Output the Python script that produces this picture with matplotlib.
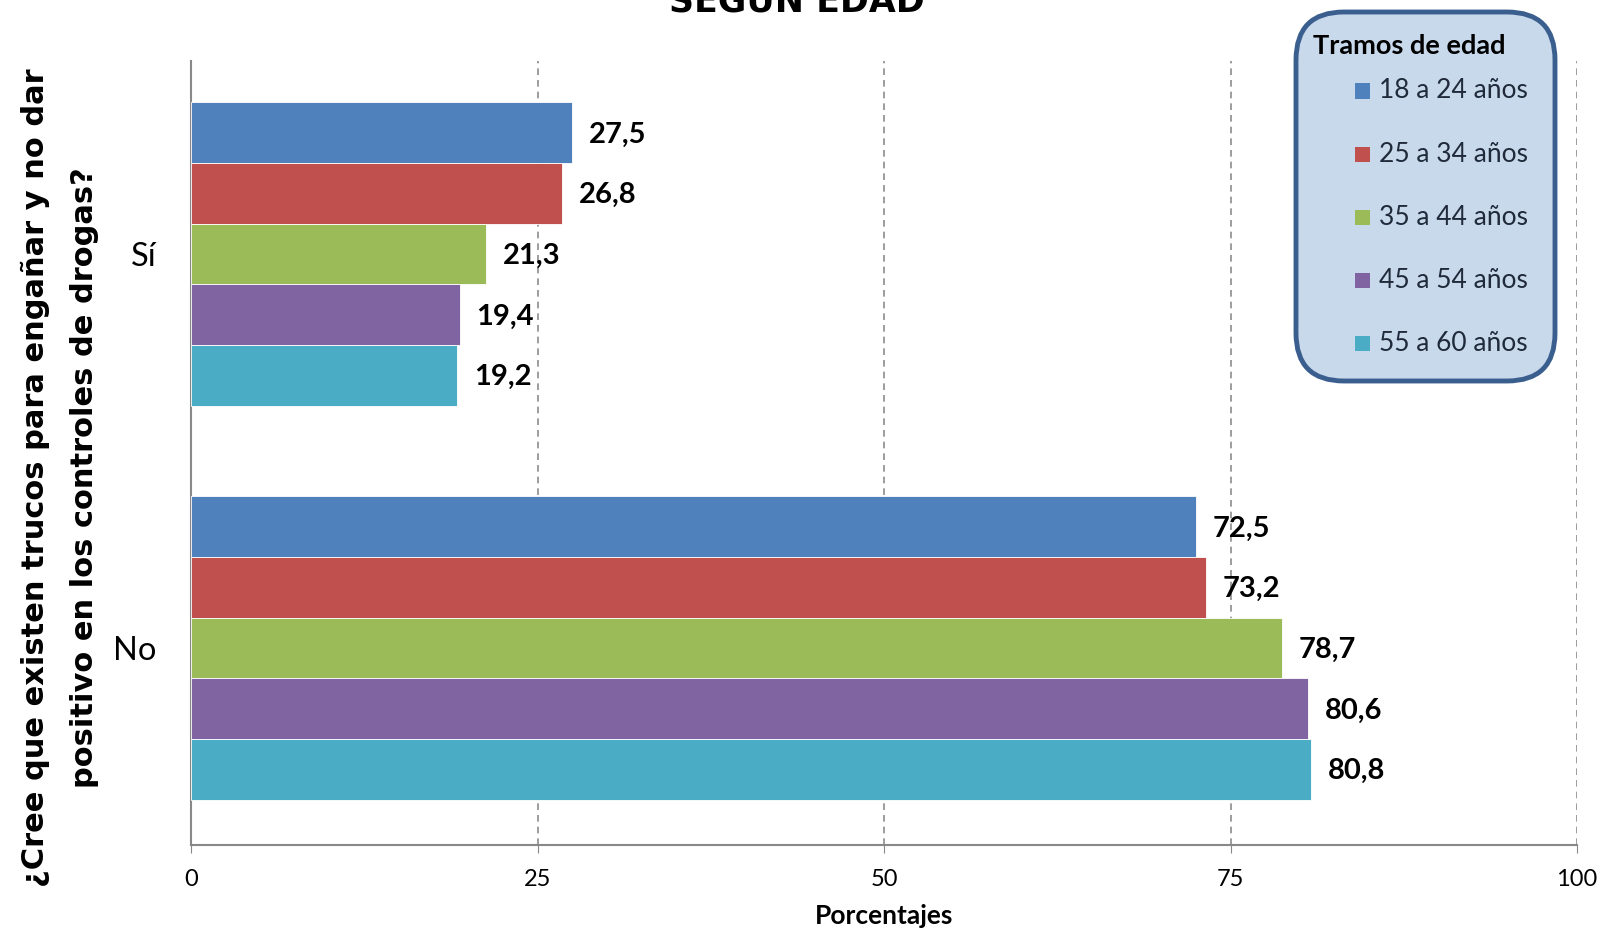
import matplotlib
matplotlib.use("Agg")
import matplotlib.pyplot as plt
from matplotlib.patches import FancyBboxPatch, Rectangle
import numpy as np

categories = ["Sí", "No"]
series_names = ["18 a 24 años", "25 a 34 años", "35 a 44 años", "45 a 54 años", "55 a 60 años"]
values = {
    "18 a 24 años": [27.5, 72.5],
    "25 a 34 años": [26.8, 73.2],
    "35 a 44 años": [21.3, 78.7],
    "45 a 54 años": [19.4, 80.6],
    "55 a 60 años": [19.2, 80.8],
}
colors = ["#4F81BD", "#C0504D", "#9BBB59", "#8064A2", "#4BACC6"]
xticks = [0, 25, 50, 75, 100]

W, H = 1599, 934
fig = plt.figure(figsize=(W / 100, H / 100), dpi=100)
ax = fig.add_axes([191 / W, 1 - 845 / H, (1577 - 191) / W, (845 - 61) / H])

FONT = "Lato"
bar_h = 0.154
y = np.arange(len(categories))
n = len(series_names)
for i, name in enumerate(series_names):
    offs = (i - (n - 1) / 2) * bar_h
    bars = ax.barh(y + offs, values[name], height=bar_h, color=colors[i],
                   edgecolor="white", linewidth=0.6, zorder=3)
    for b, v in zip(bars, values[name]):
        ax.text(v + 1.2, b.get_y() + b.get_height() / 2 + 0.005, f"{v:.1f}".replace(".", ","),
                ha="left", va="center", fontsize=21, fontweight="bold", family=FONT, zorder=4)

ax.set_xlim(0, 100)
ax.set_ylim(1.5, -0.49)
ax.set_xticks(xticks)
ax.set_xticklabels([str(t) for t in xticks], fontsize=17, family=FONT)
ax.set_yticks(y)
ax.set_yticklabels(categories, fontsize=23.5, family=FONT)
ax.tick_params(axis="y", length=0, pad=25)
ax.tick_params(axis="x", length=6, color="#888888", direction="out", pad=11)
for t in xticks[1:]:
    ax.axvline(t, color="#8c8c8c", linestyle=(0, (4, 3)), linewidth=1.2, zorder=1)
for s in ["top", "right"]:
    ax.spines[s].set_visible(False)
for s in ["left", "bottom"]:
    ax.spines[s].set_color("#888888")
    ax.spines[s].set_linewidth(1.5)

ax.set_xlabel("Porcentajes", fontsize=19, fontweight="bold", family=FONT, labelpad=10)

fig.text(0.0375, 1 - 478 / H,
         "¿Cree que existen trucos para engañar y no dar\npositivo en los controles de drogas?",
         rotation=90, ha="center", va="center", fontsize=22, fontweight="bold",
         family="DejaVu Sans", linespacing=1.85)

fig.text(797 / W, 1 - 1 / H, "SEGÚN EDAD", ha="center", va="center", fontsize=25,
         fontweight="bold", family="DejaVu Sans")

# legend box
lx0, ly0, lx1, ly1 = 1296, 12, 1555, 381
box = FancyBboxPatch((lx0 / W, 1 - ly1 / H), (lx1 - lx0) / W, (ly1 - ly0) / H,
                     boxstyle="round,pad=0,rounding_size=0.03",
                     transform=fig.transFigure, facecolor="#C9D9EC", edgecolor="#3A5F8F",
                     linewidth=3.5, mutation_aspect=W / H)
fig.add_artist(box)
fig.text(1313 / W, 1 - 46 / H, "Tramos de edad", ha="left", va="center",
         fontsize=19.5, fontweight="bold", family=FONT)
for i, name in enumerate(series_names):
    yc = 91 + i * 63.2
    sq = 15
    fig.add_artist(Rectangle(((1355) / W, 1 - (yc + sq / 2) / H), sq / W, sq / H,
                             transform=fig.transFigure, facecolor=colors[i], edgecolor="none"))
    fig.text(1379 / W, 1 - yc / H, name, ha="left", va="center", fontsize=19,
             family=FONT, color="#1F2A3A")

fig.savefig("out.png", dpi=100)
